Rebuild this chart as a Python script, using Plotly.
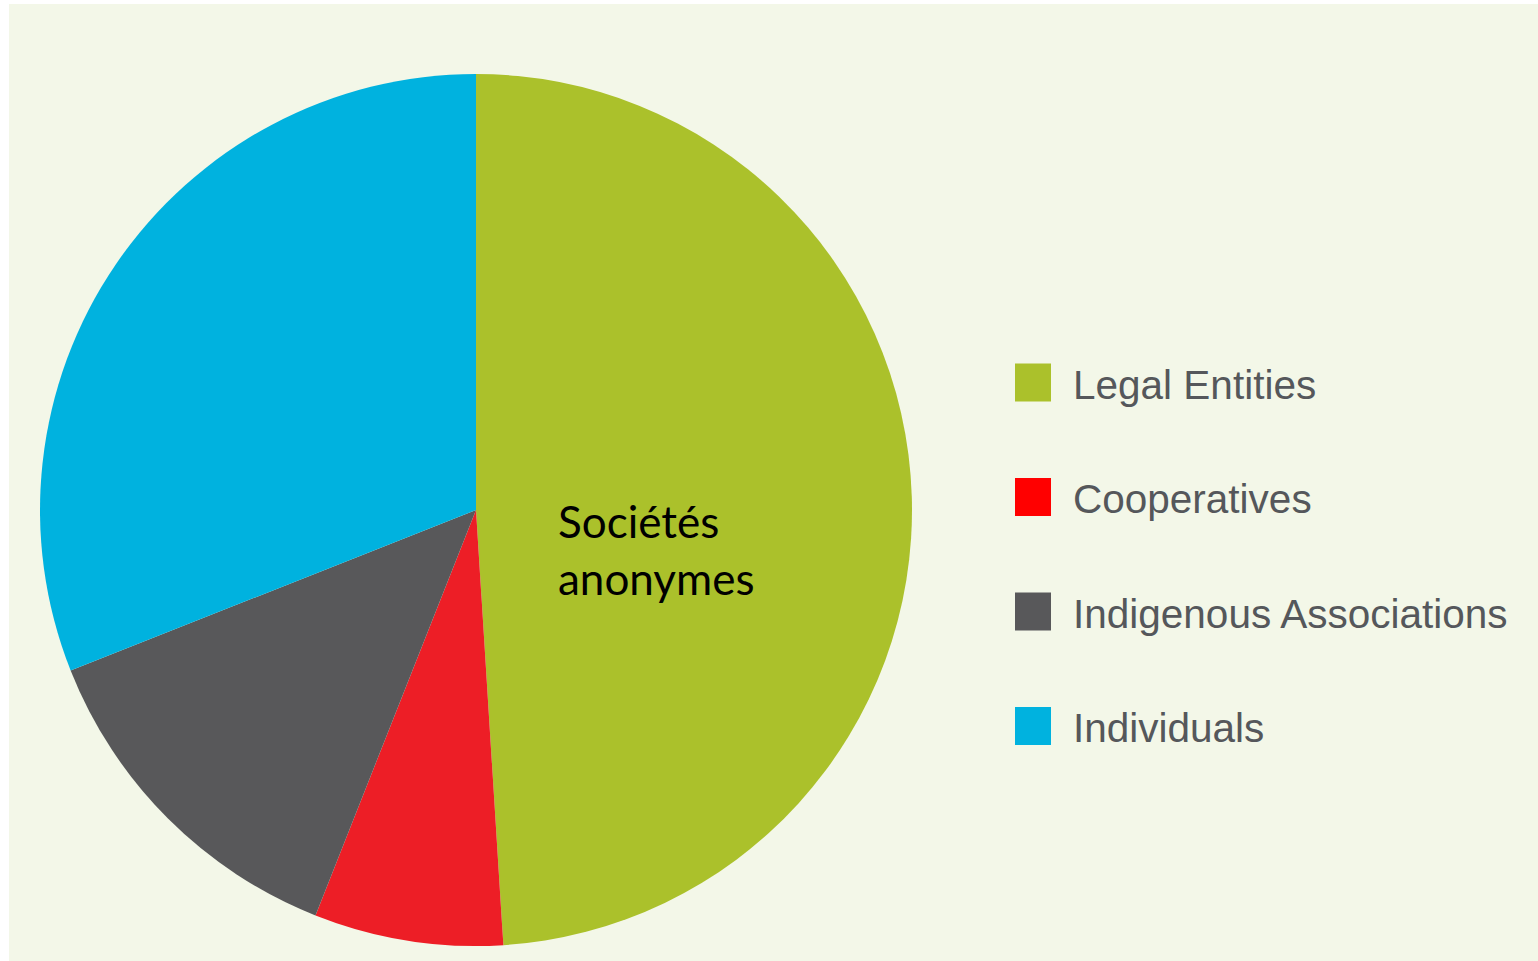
import plotly.graph_objects as go

# Ownership shares by type of holder (%)
categories = ["Legal Entities", "Cooperatives", "Indigenous Associations", "Individuals"]
shares = [49, 7, 13, 31]
slice_colors = ["#ABC12B", "#ED1E26", "#58585A", "#00B2DF"]
legend_colors = ["#ABC12B", "#FF0000", "#58585A", "#00B2DF"]
inner_label = "Sociétés<br>anonymes"

W, H = 1538, 961
BG = "#F3F7E8"


def px_x(x):
    return x / W


def px_y(y):
    return 1 - y / H


fig = go.Figure(
    go.Pie(
        labels=categories,
        values=shares,
        sort=False,
        direction="clockwise",
        rotation=0,
        marker=dict(colors=slice_colors, line=dict(width=0)),
        textinfo="none",
        hoverinfo="label+percent",
        showlegend=False,
        domain=dict(x=[px_x(40), px_x(912)], y=[px_y(946), px_y(74)]),
    )
)

shapes = [
    dict(
        type="rect", xref="paper", yref="paper",
        x0=px_x(9), x1=1, y0=0, y1=px_y(4),
        fillcolor=BG, line=dict(width=0), layer="below",
    )
]
annotations = [
    dict(
        text=inner_label, xref="paper", yref="paper",
        x=px_x(556), y=px_y(549), xanchor="left", yanchor="middle",
        align="left", showarrow=False,
        font=dict(family="Lato", size=44, color="#000000"),
    )
]

# Legend: coloured squares with labels, one row per category
row0, step = 382.5, 114.5
for i, (name, col) in enumerate(zip(categories, legend_colors)):
    cy = row0 + i * step
    shapes.append(
        dict(
            type="rect", xref="paper", yref="paper",
            x0=px_x(1015), x1=px_x(1051), y0=px_y(cy + 19), y1=px_y(cy - 19),
            fillcolor=col, line=dict(width=0),
        )
    )
    annotations.append(
        dict(
            text=name, xref="paper", yref="paper",
            x=px_x(1071), y=px_y(cy + 2), xanchor="left", yanchor="middle",
            showarrow=False,
            font=dict(family="Liberation Sans", size=40.5, color="#55575B"),
        )
    )

fig.update_layout(
    width=W, height=H,
    margin=dict(l=0, r=0, t=0, b=0),
    paper_bgcolor="#FFFFFF",
    shapes=shapes,
    annotations=annotations,
)

fig.write_html("out.html")
